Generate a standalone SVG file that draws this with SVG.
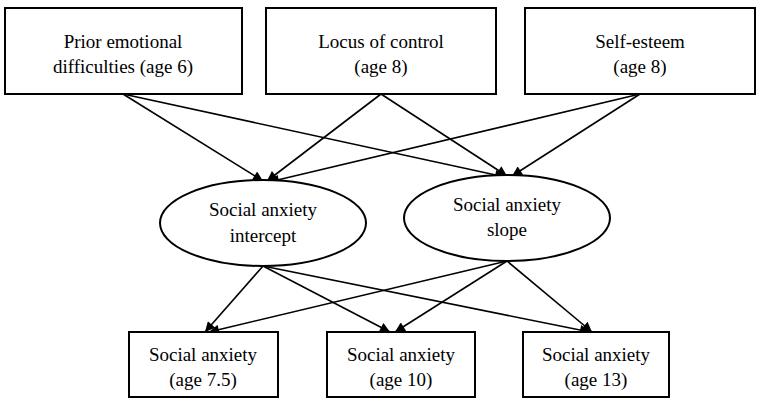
<svg xmlns="http://www.w3.org/2000/svg" width="762" height="403" viewBox="0 0 762 403">
<defs>
<marker id="ah" viewBox="0 0 10 10" refX="10" refY="5" markerWidth="11" markerHeight="10" markerUnits="userSpaceOnUse" orient="auto"><path d="M0,0 L10,5 L0,10 z" fill="#000"/></marker>
</defs>
<rect width="762" height="403" fill="#fff"/>
<g id="connectors" stroke="#000" stroke-width="1.6" fill="none" marker-end="url(#ah)">
<line x1="123" y1="94" x2="263" y2="181"/>
<line x1="381" y1="94" x2="267" y2="181"/>
<line x1="640" y1="94" x2="269" y2="182"/>
<line x1="123" y1="94" x2="505" y2="177"/>
<line x1="381" y1="94" x2="507" y2="176"/>
<line x1="640" y1="94" x2="512" y2="176"/>
<line x1="263" y1="266" x2="205" y2="332"/>
<line x1="263" y1="266" x2="390" y2="332"/>
<line x1="263" y1="266" x2="590" y2="332"/>
<line x1="507" y1="261" x2="209" y2="332"/>
<line x1="507" y1="261" x2="395" y2="332"/>
<line x1="507" y1="261" x2="592" y2="332"/>
</g>
<g fill="#fff" stroke="#000" stroke-width="2">
<rect id="prior-box" x="5" y="8" width="237" height="86"/>
<rect id="locus-box" x="266" y="8" width="230" height="86"/>
<rect id="selfesteem-box" x="525" y="8" width="230" height="86"/>
<ellipse id="intercept-shape" cx="263" cy="223" rx="103" ry="43"/>
<ellipse id="slope-shape" cx="507" cy="218" rx="103" ry="43"/>
<rect id="sa75-box" x="129" y="332" width="149" height="65"/>
<rect id="sa10-box" x="327" y="332" width="148" height="65"/>
<rect id="sa13-box" x="523" y="332" width="146" height="65"/>
</g>
<g font-family="Liberation Serif, serif" font-size="19" fill="#000" text-anchor="middle">
<g id="prior"><text x="123" y="48">Prior emotional</text><text x="123" y="73">difficulties (age 6)</text></g>
<g id="locus"><text x="381" y="48">Locus of control</text><text x="381" y="73">(age 8)</text></g>
<g id="selfesteem"><text x="640" y="48">Self-esteem</text><text x="640" y="73">(age 8)</text></g>
<g id="intercept"><text x="263" y="216">Social anxiety</text><text x="263" y="242">intercept</text></g>
<g id="slope"><text x="507" y="211">Social anxiety</text><text x="507" y="236">slope</text></g>
<g id="sa75"><text x="203" y="361">Social anxiety</text><text x="203" y="386">(age 7.5)</text></g>
<g id="sa10"><text x="401" y="361">Social anxiety</text><text x="401" y="386">(age 10)</text></g>
<g id="sa13"><text x="596" y="361">Social anxiety</text><text x="596" y="386">(age 13)</text></g>
</g>
</svg>
